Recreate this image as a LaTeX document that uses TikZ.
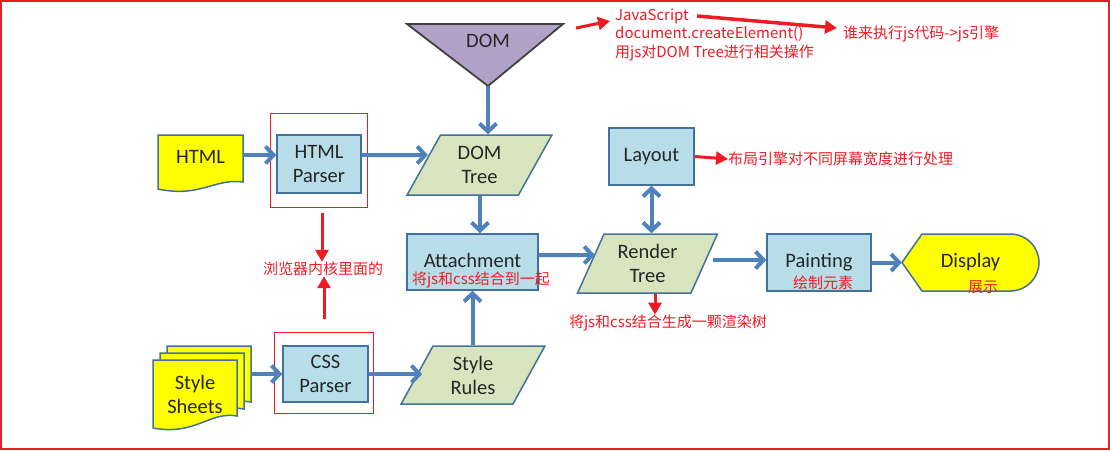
\documentclass[tikz,border=0pt]{standalone}
\usepackage{fontspec}
\setmainfont{Carlito}
\newfontfamily\cjk{Noto Sans CJK SC}
\usetikzlibrary{arrows.meta,shapes.geometric}
\definecolor{bxfill}{HTML}{B7DDE8}
\definecolor{grfill}{HTML}{D7E4BD}
\definecolor{yefill}{HTML}{FFFF00}
\definecolor{pufill}{HTML}{B3A2C7}
\definecolor{bdcol}{HTML}{41719C}
\definecolor{arcol}{HTML}{4F81BD}
\definecolor{rdcol}{HTML}{ED1C24}
\definecolor{txcol}{HTML}{262626}
\tikzset{
  lbl/.style={text=txcol,font=\fontsize{20.5}{24}\selectfont,align=center,inner sep=0pt},
  pbox/.style={lbl,draw=bdcol,line width=1.5pt,fill=bxfill},
  para/.style={lbl,trapezium,trapezium stretches=true,draw=bdcol,line width=1.5pt,fill=grfill},
  docshape/.style={draw=bdcol,line width=1.5pt,fill=yefill},
  bl/.style={draw=arcol,line width=4pt,-{Straight Barb[length=8pt,width=17pt]}},
  blboth/.style={draw=arcol,line width=4pt,{Straight Barb[length=8pt,width=17pt]}-{Straight Barb[length=8pt,width=17pt]}},
  ra/.style={draw=rdcol,line width=3pt,-{Triangle[length=12pt,width=13pt]}},
  rnote/.style={text=rdcol,font=\cjk\fontsize{15}{18.5}\selectfont,inner sep=0pt},
  rframe/.style={draw=rdcol,line width=1pt}
}
\begin{document}
\begin{tikzpicture}[x=1pt,y=-1pt]
\useasboundingbox (0,0) rectangle (1110,450);
\draw[draw=rdcol,line width=2pt] (1,1) rectangle (1109,449);

% DOM triangle
\draw[draw=black!75,line width=1.8pt,fill=pufill] (407,24) -- (563,24) -- (488,86) -- cycle;
\node[lbl] (dom) at (488,41) {DOM};
\coordinate (apex) at (488,86);

% HTML document
\draw[docshape] (158,135) -- (243,135) -- (243,182) .. controls (215,178) and (200,198) .. (158,189) -- cycle;
\node[lbl,minimum width=85pt] (html) at (200.5,157) {HTML};

% Style sheets stack
\foreach \d in {14,7,0}{
  \draw[docshape,shift={(\d,-\d)}] (153,360) -- (237,360) -- (237,416) .. controls (210,411) and (195,436) .. (153,428) -- cycle;
}
\node[lbl] (ss) at (195,394) {Style\\Sheets};
\node[minimum width=98pt,minimum height=84pt,inner sep=0pt] (ssb) at (202,388) {};

% Parsers
\node[pbox,minimum width=84pt,minimum height=58pt] (hp) at (319,164) {HTML\\Parser};
\node[pbox,minimum width=85pt,minimum height=56pt] (cp) at (325.5,374) {CSS\\Parser};
\node[rframe,minimum width=97pt,minimum height=94pt] (hpf) at (318.5,160) {};
\node[rframe,minimum width=99pt,minimum height=81pt] (cpf) at (323.5,372.5) {};

% Parallelograms
\node[para,trapezium left angle=63.4,trapezium right angle=116.6,minimum width=145pt,minimum height=60pt] (dt) at (479.5,165) {DOM\\Tree};
\node[para,trapezium left angle=64.6,trapezium right angle=115.4,minimum width=141pt,minimum height=59pt] (rt) at (647.5,263.5) {Render\\Tree};
\node[para,trapezium left angle=65,trapezium right angle=115,minimum width=144pt,minimum height=58pt] (sr) at (473,375) {Style\\Rules};

% Boxes
\node[pbox,minimum width=131pt,minimum height=56pt] (att) at (472.5,262) {\raisebox{3pt}{Attachment}};
\node[pbox,minimum width=85pt,minimum height=57pt] (lay) at (651.5,156.5) {Layout};
\node[pbox,minimum width=104pt,minimum height=57pt] (paint) at (819,262.5) {\raisebox{2pt}{Painting}};

% Display
\draw[docshape,line width=1.5pt] (902,262.5) -- (922,234) -- (1010.5,234)
  .. controls (1026.2,234) and (1039,246.8) .. (1039,262.5)
  .. controls (1039,278.2) and (1026.2,291) .. (1010.5,291) -- (922,291) -- cycle;
\node[lbl,minimum width=137pt,minimum height=57pt] (disp) at (970.5,262.5) {\raisebox{2pt}{Display}};

% Blue connectors
\draw[bl] ([yshift=2pt]html.east) -- ([yshift=9pt]hp.west);
\draw[bl] ([yshift=9pt]hp.east) -- ([yshift=10pt,xshift=5pt]dt.west);
\draw[bl] (apex) -- (apex |- dt.north);
\draw[bl] ([xshift=7.5pt]att.north |- dt.south) -- ([xshift=7.5pt]att.north);
\draw[bl] (ssb.east |- cp.west) -- (cp.west);
\draw[bl] (cp.east) -- ([xshift=6pt]sr.west |- cp.east);
\draw[bl] (att.south |- sr.north) -- (att.south);
\draw[bl] ([yshift=7pt]att.east) -- ([yshift=8.5pt,xshift=5pt]rt.west);
\draw[blboth] (lay.south) -- (lay.south |- rt.north);
\draw[bl] ([yshift=2.5pt,xshift=8pt]rt.east |- paint.west) -- ([yshift=2.5pt]paint.west);
\draw[bl] (paint.east) -- (disp.west);

% Red notes
\node[rnote,anchor=west,align=left] (js) at (615,35) {JavaScript\\document.createElement()\\用js对DOM Tree进行相关操作};
\node[rnote,anchor=west] (who) at (843,34) {谁来执行js代码->js引擎};
\node[rnote,anchor=west] (layn) at (728,159) {布局引擎对不同屏幕宽度进行处理};
\node[rnote] (rtn) at (668,323) {将js和css结合生成一颗渲染树};
\node[rnote] (core) at (323,269) {浏览器内核里面的};
\node[rnote] (attn) at (481,280) {将js和css结合到一起};
\node[rnote] (paintn) at (823,283) {绘制元素};
\node[rnote] (dispn) at (983,287) {展示};

% Red arrows
\coordinate (r1a) at (576,28);
\coordinate (r1b) at (610,21);
\draw[ra] (r1a) -- (r1b);
\coordinate (r2a) at (697,16);
\coordinate (r2b) at (837,28);
\draw[ra,line width=3.5pt] (r2a) -- (r2b);
\draw[ra] (lay.east) -- (layn.west);
\draw[ra] ([xshift=7.5pt]rt.south) -- ([xshift=7.5pt]rt.south |- rtn.north);
\path (hpf.south) ++(3.5,5) coordinate (r5a);
\draw[ra] (r5a) -- (r5a |- core.north);
\coordinate (r6a) at (324,319);
\draw[ra] (r6a) -- (r6a |- core.south);
\end{tikzpicture}
\end{document}
